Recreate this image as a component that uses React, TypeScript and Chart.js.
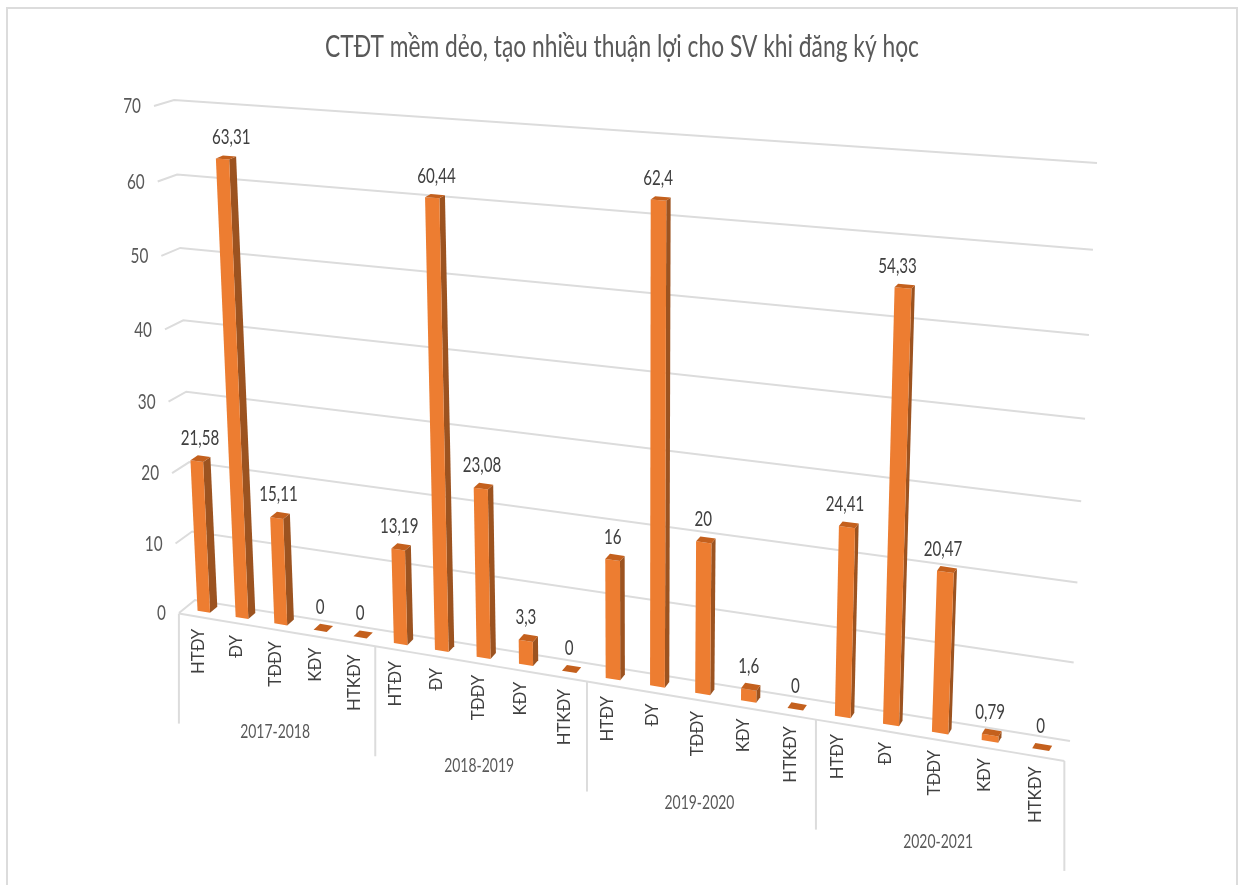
import React, { useEffect, useRef } from "react";
import { Chart, registerables } from "chart.js";

Chart.register(...registerables);

const title = "CTĐT mềm dẻo, tạo nhiều thuận lợi cho SV khi đăng ký học";
const levels = ["HTĐY", "ĐY", "TĐĐY", "KĐY", "HTKĐY"];
const years = ["2017-2018", "2018-2019", "2019-2020", "2020-2021"];
const v2017 = [21.58, 63.31, 15.11, 0, 0];
const v2018 = [13.19, 60.44, 23.08, 3.3, 0];
const v2019 = [16, 62.4, 20, 1.6, 0];
const v2020 = [24.41, 54.33, 20.47, 0.79, 0];

const categories = years.flatMap(() => levels);
const values = [...v2017, ...v2018, ...v2019, ...v2020];

type P = [number, number];
type Corr = [number, number, number, number];

function solveHomography(c: Corr[]) {
  const m: number[][] = [];
  for (const [u, v, x, y] of c) {
    m.push([u, v, 1, 0, 0, 0, -u * x, -v * x, x]);
    m.push([0, 0, 0, u, v, 1, -u * y, -v * y, y]);
  }
  for (let i = 0; i < 8; i++) {
    let p = i;
    for (let r = i + 1; r < 8; r++) if (Math.abs(m[r][i]) > Math.abs(m[p][i])) p = r;
    [m[i], m[p]] = [m[p], m[i]];
    for (let r = 0; r < 8; r++) {
      if (r === i) continue;
      const f = m[r][i] / m[i][i];
      for (let k = i; k < 9; k++) m[r][k] -= f * m[i][k];
    }
  }
  const h = m.map((r, i) => r[8] / r[i]);
  return (u: number, v: number): P => {
    const w = h[6] * u + h[7] * v + 1;
    return [(h[0] * u + h[1] * v + h[2]) / w, (h[3] * u + h[4] * v + h[5]) / w];
  };
}

// Perspective calibration of the 3-D look (unit plot square -> page)
const wall = solveHomography([
  [0, 0, 195, 600],
  [1, 0, 1070, 741],
  [0, 1, 174, 100],
  [1, 1, 1097, 163],
]);
const barFront = solveHomography([
  [0.075, 0, 242, 618],
  [0.825, 0, 891, 725],
  [0.075, 0.9044, 222.5, 159],
  [0.825, 0.7761, 903, 288],
]);
const barBack = solveHomography([
  [0.075, 0, 249, 612],
  [0.825, 0, 894.5, 719.5],
  [0.075, 0.9044, 229.5, 156],
  [0.825, 0.7761, 906.5, 284.5],
]);

const FONT = "Lato, Carlito, 'Liberation Sans'";
const STRETCH_Y = 1.27;
const SQUEEZE_X = 0.93;

function stretchedText(
  ctx: CanvasRenderingContext2D,
  text: string,
  x: number,
  y: number,
  size: number,
  color: string,
  opts: { rotate?: boolean; align?: CanvasTextAlign } = {}
) {
  ctx.save();
  ctx.translate(x, y);
  ctx.scale(opts.rotate ? 1.08 : SQUEEZE_X, opts.rotate ? 1.08 : STRETCH_Y);
  if (opts.rotate) ctx.rotate(-Math.PI / 2);
  ctx.font = `${size}px ${FONT}`;
  ctx.fillStyle = color;
  ctx.textAlign = opts.align ?? "center";
  ctx.textBaseline = "middle";
  ctx.fillText(text, 0, 0);
  ctx.restore();
}

function line(ctx: CanvasRenderingContext2D, pts: P[], color = "#dcdcdc", w = 2) {
  ctx.beginPath();
  pts.forEach((p, i) => (i ? ctx.lineTo(p[0], p[1]) : ctx.moveTo(p[0], p[1])));
  ctx.strokeStyle = color;
  ctx.lineWidth = w;
  ctx.stroke();
}

function poly(ctx: CanvasRenderingContext2D, pts: P[], color: string) {
  ctx.beginPath();
  pts.forEach((p, i) => (i ? ctx.lineTo(p[0], p[1]) : ctx.moveTo(p[0], p[1])));
  ctx.closePath();
  ctx.fillStyle = color;
  ctx.fill();
}

const perspective = {
  id: "perspective",
  beforeDraw(chart: any) {
    const { ctx, width, height } = chart;
    ctx.save();
    ctx.fillStyle = "#ffffff";
    ctx.fillRect(0, 0, width, height);
    ctx.strokeStyle = "#dcdcdc";
    ctx.lineWidth = 2;
    ctx.beginPath();
    ctx.moveTo(7, height);
    ctx.lineTo(7, 8);
    ctx.lineTo(1237, 8);
    ctx.lineTo(1237, height);
    ctx.stroke();
    ctx.restore();
  },
  beforeDatasetsDraw(chart: any) {
    const { ctx, scales } = chart;
    const y = scales.y;
    const x = scales.x;
    const area = chart.chartArea;
    const us = (px: number) => (px - area.left) / (area.right - area.left);
    const vs = (py: number) => (area.bottom - py) / (area.bottom - area.top);
    ctx.save();
    stretchedText(ctx, title, 622, 47, 24.5, "#595959");
    // value axis: gridlines on the slanted wall, stub on the side, labels
    y.ticks.forEach((t: any) => {
      const v = vs(y.getPixelForValue(t.value));
      const a = wall(0, v);
      const b = wall(1, v);
      const stub: P = [a[0] - 16 - 4 * v, a[1] + 13 - 7 * v];
      line(ctx, [stub, a, b]);
      stretchedText(ctx, String(t.value), stub[0] - 13, stub[1] + 0.5, 16.5, "#595959", { align: "right" });
    });
    // floor front edge and group separators
    const step = (x.getPixelForValue(1) - x.getPixelForValue(0)) / (area.right - area.left);
    const edge = (u: number): P => {
      const p = barFront(u, 0);
      return [p[0] - 6 + 4 * u, p[1] + 5 + 2 * u];
    };
    const edgePts: P[] = [];
    for (let k = 0; k <= 20; k++) edgePts.push(edge(k * step));
    line(ctx, edgePts);
    const n = levels.length;
    for (let g = 0; g <= years.length; g++) {
      const top = edge(g * n * step);
      line(ctx, [top, [top[0], top[1] + 110]]);
    }
    years.forEach((yr, g) => {
      const a = edge(g * n * step);
      const b = edge((g + 1) * n * step);
      stretchedText(ctx, yr, (a[0] + b[0]) / 2 - 2, (a[1] + b[1]) / 2 + 110 - 8, 15, "#595959");
    });
    categories.forEach((c, i) => {
      const p = barFront(us(x.getPixelForValue(i)), 0);
      stretchedText(ctx, c, p[0] - 5, p[1] + 17, 15.5, "#404040", { rotate: true, align: "right" });
    });
    ctx.restore();
  },
  beforeDatasetDraw(chart: any, args: any) {
    const { ctx } = chart;
    const meta = args.meta;
    const area = chart.chartArea;
    const us = (px: number) => (px - area.left) / (area.right - area.left);
    const vs = (py: number) => (area.bottom - py) / (area.bottom - area.top);
    ctx.save();
    meta.data.forEach((el: any, i: number) => {
      const props = el.getProps(["x", "y", "base", "width"], true);
      const u0 = us(props.x - props.width / 2);
      const u1 = us(props.x + props.width / 2);
      const vt = vs(props.y);
      const vb = vs(props.base);
      const fl = barFront(u0, vb);
      const fr = barFront(u1, vb);
      const tl = barFront(u0, vt);
      const tr = barFront(u1, vt);
      const bbr = barBack(u1, vb);
      const btr = barBack(u1, vt);
      const btl = barBack(u0, vt);
      poly(ctx, [fr, bbr, btr, tr], "#9c5320");
      poly(ctx, [fl, fr, tr, tl], "#ed7d31");
      poly(ctx, [tl, tr, btr, btl], "#c4601d");
      const topMid = (tl[0] + tr[0]) / 2;
      const baseMid = (fl[0] + fr[0]) / 2;
      const lx = topMid * 0.55 + baseMid * 0.45;
      const ly = Math.min(tl[1], btr[1]);
      stretchedText(ctx, String(values[i]).replace(".", ","), lx, ly - 19, 16.3, "#404040");
    });
    ctx.restore();
    return false;
  },
};

export default function App() {
  const ref = useRef<HTMLCanvasElement>(null);
  useEffect(() => {
    const chart = new Chart(ref.current!, {
      type: "bar",
      data: {
        labels: categories,
        datasets: [
          {
            label: title,
            data: values,
            backgroundColor: "#ed7d31",
            barPercentage: 0.33,
            categoryPercentage: 1,
          },
        ],
      },
      options: {
        animation: false,
        responsive: false,
        layout: { padding: 0 },
        plugins: { legend: { display: false }, title: { display: false }, tooltip: { enabled: false } },
        scales: {
          x: { display: false, type: "category" },
          y: { display: false, min: 0, max: 70, ticks: { stepSize: 10 } },
        },
      },
      plugins: [perspective],
    } as any);
    return () => chart.destroy();
  }, []);
  return (
    <canvas
      ref={ref}
      width={1238}
      height={885}
      style={{ position: "fixed", left: 0, top: 0, width: 1238, height: 885 }}
    />
  );
}
